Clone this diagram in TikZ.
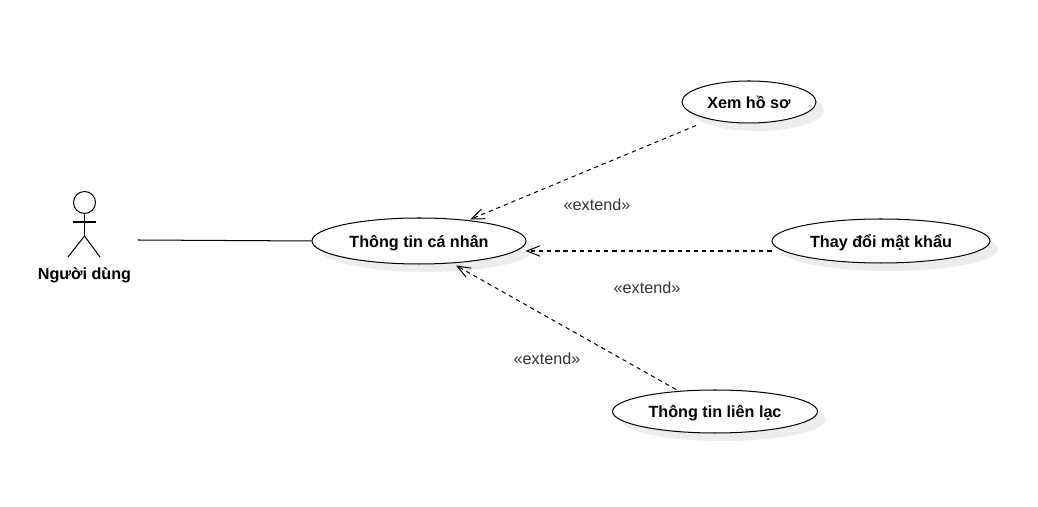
\documentclass[tikz,border=0pt]{standalone}
\usepackage{fontspec}
\setmainfont{Liberation Sans}
\usetikzlibrary{arrows.meta,shadows,shapes.geometric}
\definecolor{extendtext}{HTML}{333333}
\tikzset{
    usecase/.style={draw=black, fill=white, ellipse, line width=0.72pt, inner sep=0pt,
        text height=10.6pt, text depth=2pt,
        font=\fontsize{11.5}{13.8}\selectfont\bfseries,
        drop shadow={shadow xshift=0.2cm, shadow yshift=-0.2cm, fill=black!7, opacity=1}},
    extendline/.style={draw=black, line width=0.72pt, dash pattern=on 3pt off 2.8pt,
        -{Straight Barb[length=0.33cm,width=0.26cm,line width=0.7pt]}},
    extendlabel/.style={text=extendtext, font=\fontsize{11.5}{13.8}\selectfont},
    stick/.style={draw=black, line width=0.72pt}
}
\begin{document}
\begin{tikzpicture}
    \useasboundingbox (0,0) rectangle (25.95,12.675);
    % use cases
    \node[usecase, minimum width=5.35cm, minimum height=1.15cm]  (info)    at (10.475,6.65)  {Thông tin cá nhân};
    \node[usecase, minimum width=3.35cm, minimum height=1.05cm]  (profile) at (18.725,10.125) {Xem hồ sơ};
    \node[usecase, minimum width=5.45cm, minimum height=1.1cm]   (passwd)  at (22.025,6.65)  {Thay đổi mật khẩu};
    \node[usecase, minimum width=5.125cm, minimum height=1.075cm] (contact) at (17.875,2.3875) {Thông tin liên lạc};
    % actor
    \node[draw=black, circle, line width=0.72pt, minimum size=0.55cm, inner sep=0pt] (head) at (2.1125,7.6125) {};
    \coordinate (hip) at (2.1125,6.775);
    \draw[stick] (head.south) -- (hip);
    \draw[stick] (1.825,7.125) -- (2.4,7.125);
    \draw[stick] (1.7,6.25) -- (hip) -- (2.5,6.25);
    \node[font=\fontsize{11.5}{13.8}\selectfont\bfseries] (user) at (2.1125,5.8) {Người dùng};
    \coordinate (userlink) at (3.45,6.675);
    \draw[stick] (userlink) -- (info.west);
    % extend relations
    \draw[extendline] ([shift={(-1.325,-0.05)}]profile.south) -- ([shift={(1.275,-0.05)}]info.north);
    \draw[extendline] ([shift={(0,-0.25)}]passwd.west) -- ([shift={(-0.025,-0.25)}]info.east);
    \draw[extendline] ([shift={(-0.975,-0.0)}]contact.north) -- ([shift={(0.925,-0.025)}]info.south);
    \node[extendlabel] (extendA) at (14.925,7.55)  {«extend»};
    \node[extendlabel] (extendB) at (16.175,5.475) {«extend»};
    \node[extendlabel] (extendC) at (13.675,3.7)  {«extend»};
\end{tikzpicture}
\end{document}
